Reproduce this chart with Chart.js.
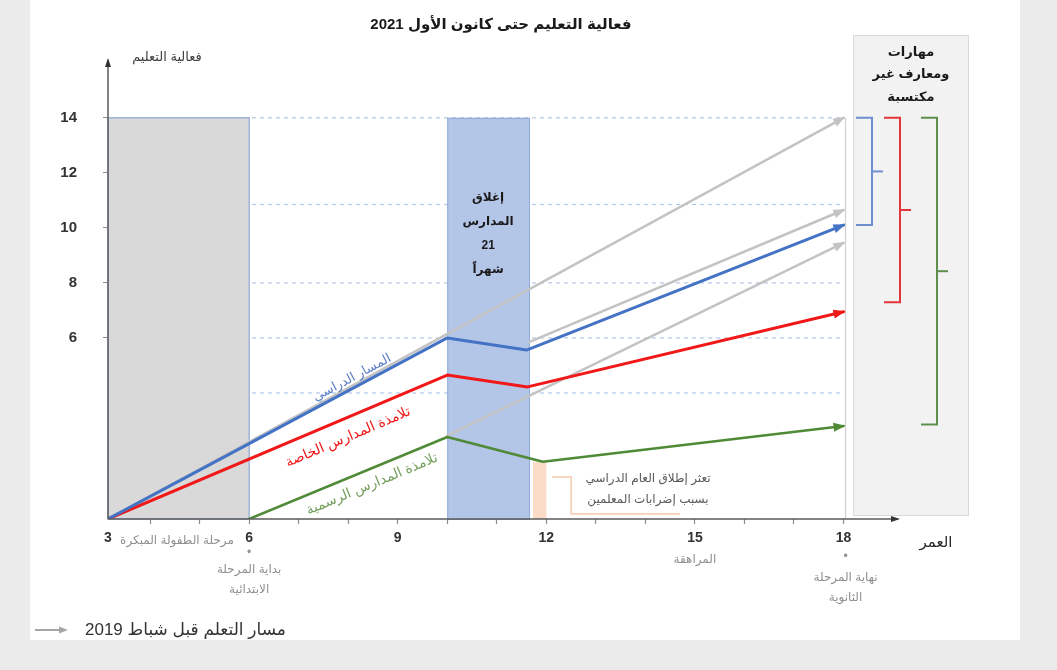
<!DOCTYPE html>
<html><head><meta charset="utf-8">
<script src="https://cdn.jsdelivr.net/npm/chart.js@4/dist/chart.umd.min.js"></script>
<style>html,body{margin:0;padding:0;background:#ebebeb;overflow:hidden}</style>
</head><body>
<canvas id="c" width="1057" height="670"></canvas>
<script>
// ---- data ----
const xTickLabels = [3, 6, 9, 12, 15, 18];
const yTickLabels = [6, 8, 10, 12, 14];
const guideLevels = [14, 10.85, 8, 6, 4];

const teacherAges = [3.15, 10, 11.6, 18];
const teacherVals = [-0.58, 6.0, 5.56, 10.1];
const privateAges = [3.15, 10, 11.62, 18];
const privateVals = [-0.58, 4.65, 4.22, 6.95];
const publicAges  = [6, 10, 11.93, 18];
const publicVals  = [-0.58, 2.4, 1.5, 2.8];

const preA_Ages = [3.15, 18];  const preA_Vals = [-0.58, 14];
const preB_Ages = [11.65, 18]; const preB_Vals = [5.85, 10.65];
const preC_Ages = [10, 18];    const preC_Vals = [2.45, 9.45];

const earlyChildhoodSpan = [3.15, 6];
const closureSpan = [10, 11.65];
const strikeSpan = [11.65, 12];
const strikeTop = 1.5;
const gapTop = 14;
const gapBottoms = [10.1, 7.3, 2.85];

const FONT = '"Liberation Sans", Arial, "DejaVu Sans", sans-serif';
const BLUE = '#4472c4', RED = '#f01818', GREEN = '#4f8a37', GRAY = '#c3c3c3';

function pts(xs, ys){ return xs.map((x,i)=>({x:x, y:ys[i]})); }

function arrowHead(ctx, x1, y1, x2, y2, color, len, w){
  const a = Math.atan2(y2-y1, x2-x1);
  ctx.save(); ctx.translate(x2, y2); ctx.rotate(a);
  ctx.beginPath(); ctx.moveTo(2,0); ctx.lineTo(-len,-w); ctx.lineTo(-len,w); ctx.closePath();
  ctx.fillStyle = color; ctx.fill(); ctx.restore();
}

const decor = {
  id: 'decor',
  beforeDraw(chart){
    const ctx = chart.ctx;
    ctx.save();
    ctx.fillStyle = '#ebebeb'; ctx.fillRect(0,0,chart.width,chart.height);
    ctx.fillStyle = '#ffffff'; ctx.fillRect(30,0,990,640);
    ctx.fillStyle = '#f2f2f2'; ctx.fillRect(853,35,115,480);
    ctx.strokeStyle = '#d9d9d9'; ctx.lineWidth = 1; ctx.strokeRect(853.5,35.5,115,480);
    ctx.restore();
  },
  beforeDatasetsDraw(chart){
    const ctx = chart.ctx, xs = chart.scales.x, ys = chart.scales.y;
    const X = v=>xs.getPixelForValue(v), Y = v=>ys.getPixelForValue(v);
    const bottom = chart.chartArea.bottom;
    ctx.save();
    ctx.setLineDash([4,4]); ctx.strokeStyle = '#b4c7e7'; ctx.lineWidth = 1.2;
    guideLevels.forEach(v=>{ ctx.beginPath(); ctx.moveTo(X(earlyChildhoodSpan[0]), Y(v)); ctx.lineTo(X(18), Y(v)); ctx.stroke(); });
    ctx.setLineDash([]);
    ctx.strokeStyle = '#d0d0d0'; ctx.lineWidth = 1.2;
    ctx.beginPath(); ctx.moveTo(X(18)+2, Y(gapTop)); ctx.lineTo(X(18)+2, bottom); ctx.stroke();
    ctx.fillStyle = '#d9d9d9'; ctx.strokeStyle = '#9fb3d9'; ctx.lineWidth = 1.5;
    let x0 = X(earlyChildhoodSpan[0]), x1 = X(earlyChildhoodSpan[1]);
    ctx.fillRect(x0, Y(gapTop), x1-x0, bottom-Y(gapTop));
    ctx.strokeRect(x0, Y(gapTop), x1-x0, bottom-Y(gapTop));
    x0 = X(closureSpan[0]); x1 = X(closureSpan[1]);
    ctx.fillStyle = '#b4c6e7'; ctx.strokeStyle = '#8faadc'; ctx.lineWidth = 1;
    ctx.fillRect(x0, Y(gapTop), x1-x0, bottom-Y(gapTop));
    ctx.strokeRect(x0+0.5, Y(gapTop)+0.5, x1-x0, bottom-Y(gapTop));
    x0 = X(strikeSpan[0]); x1 = X(strikeSpan[1]);
    ctx.fillStyle = '#fadcc8';
    ctx.fillRect(x0+4, Y(strikeTop), x1-x0-4, bottom-Y(strikeTop));
    ctx.strokeStyle = '#f6c9ab'; ctx.lineWidth = 1.5;
    ctx.beginPath();
    ctx.moveTo(X(12.12), Y(0.95)); ctx.lineTo(X(12.5), Y(0.95)); ctx.lineTo(X(12.5), Y(-0.4)); ctx.lineTo(X(14.7), Y(-0.4));
    ctx.stroke();
    ctx.restore();
  },
  afterDatasetsDraw(chart){
    const ctx = chart.ctx, ys = chart.scales.y;
    const Y = v=>ys.getPixelForValue(v);
    const ca = chart.chartArea;
    ctx.save();
    chart.data.datasets.forEach((ds,i)=>{
      const m = chart.getDatasetMeta(i).data; const n = m.length;
      const a = m[n-2], b = m[n-1];
      arrowHead(ctx, a.x, a.y, b.x, b.y, ds.borderColor, 10, 4.5);
    });
    ctx.strokeStyle = '#5a5a5a'; ctx.lineWidth = 1.5;
    ctx.beginPath(); ctx.moveTo(ca.left, ca.bottom); ctx.lineTo(ca.right, ca.bottom); ctx.stroke();
    ctx.beginPath(); ctx.moveTo(ca.left, ca.bottom); ctx.lineTo(ca.left, ca.top); ctx.stroke();
    arrowHead(ctx, ca.left, ca.bottom, ca.right, ca.bottom, '#333', 7, 3);
    arrowHead(ctx, ca.left, ca.bottom, ca.left, ca.top, '#333', 7, 3);
    const bx = [872, 900, 937], bc = ['#6f8fd0', '#e2363b', '#5e8f4c'];
    gapBottoms.forEach((v,i)=>{
      const t = Y(gapTop), b = Y(v), x = bx[i];
      ctx.strokeStyle = bc[i]; ctx.lineWidth = 2;
      ctx.beginPath(); ctx.moveTo(x-16, t); ctx.lineTo(x, t); ctx.lineTo(x, b); ctx.lineTo(x-16, b); ctx.stroke();
      ctx.beginPath(); ctx.moveTo(x, (t+b)/2); ctx.lineTo(x+11, (t+b)/2); ctx.stroke();
    });
    ctx.direction = 'rtl'; ctx.textAlign = 'center'; ctx.textBaseline = 'middle';
    function lineLabel(dsIndex, px, off, text, color, size){
      const m = chart.getDatasetMeta(dsIndex).data; const a = m[0], b = m[1];
      const ang = Math.atan2(b.y-a.y, b.x-a.x);
      const y = a.y + (px - a.x) * Math.tan(ang);
      ctx.save(); ctx.translate(px, y + off); ctx.rotate(ang);
      ctx.fillStyle = color; ctx.font = size + 'px ' + FONT; ctx.fillText(text, 0, 0); ctx.restore();
    }
    lineLabel(0, 352, -11, 'المسار الدراسي', '#5b7fc6', 13);
    lineLabel(1, 348, 20, 'تلامذة المدارس الخاصة', '#f01818', 14);
    lineLabel(2, 372, 16, 'تلامذة المدارس الرسمية', '#76a05f', 14);
    ctx.restore();
  },
  afterDraw(chart){
    const ctx = chart.ctx, xs = chart.scales.x;
    const X = v=>xs.getPixelForValue(v);
    ctx.save();
    ctx.direction = 'rtl'; ctx.textAlign = 'center'; ctx.textBaseline = 'middle';
    ctx.fillStyle = '#1a1a1a'; ctx.font = 'bold 15px ' + FONT;
    ctx.fillText('فعالية التعليم حتى كانون الأول 2021', 501, 25);
    ctx.fillStyle = '#404040'; ctx.font = '13px ' + FONT;
    ctx.fillText('فعالية التعليم', 167, 57);
    ctx.fillStyle = '#262626'; ctx.font = '15px ' + FONT;
    ctx.fillText('العمر', 936, 543);
    ctx.fillStyle = '#1a1a1a'; ctx.font = 'bold 12px ' + FONT;
    const cx = (X(closureSpan[0]) + X(closureSpan[1]))/2;
    ['إغلاق', 'المدارس', '21', 'شهراً'].forEach((t,i)=>ctx.fillText(t, cx, 198 + i*24));
    ctx.font = 'bold 13px ' + FONT;
    ['مهارات', 'ومعارف غير', 'مكتسبة'].forEach((t,i)=>ctx.fillText(t, 911, 52 + i*22.5));
    ctx.fillStyle = '#595959'; ctx.font = '12px ' + FONT;
    ctx.fillText('تعثر إطلاق العام الدراسي', 648, 479);
    ctx.fillText('بسبب إضرابات المعلمين', 648, 500);
    ctx.fillStyle = '#8f8f8f'; ctx.font = '12px ' + FONT;
    ctx.fillText('مرحلة الطفولة المبكرة', 177, 541);
    ctx.fillText('•', X(6), 553);
    ctx.fillText('بداية المرحلة', X(6), 570);
    ctx.fillText('الابتدائية', X(6), 590);
    ctx.fillText('المراهقة', X(15), 560);
    ctx.fillText('•', X(18)+2, 557);
    ctx.fillText('نهاية المرحلة', X(18)+2, 578);
    ctx.fillText('الثانوية', X(18)+2, 598);
    ctx.strokeStyle = '#a6a6a6'; ctx.lineWidth = 2;
    ctx.beginPath(); ctx.moveTo(35, 630); ctx.lineTo(62, 630); ctx.stroke();
    arrowHead(ctx, 35, 630, 66, 630, '#a6a6a6', 7, 3.5);
    ctx.fillStyle = '#333333'; ctx.font = '17px ' + FONT; ctx.textAlign = 'left';
    ctx.fillText('مسار التعلم قبل شباط 2019', 85, 630);
    ctx.restore();
  }
};

const intTicks = [];
for (let v = 4; v <= 18; v++) intTicks.push(v);

new Chart(document.getElementById('c'), {
  type: 'line',
  data: {
    datasets: [
      {data: pts(teacherAges, teacherVals), borderColor: BLUE, borderWidth: 3},
      {data: pts(privateAges, privateVals), borderColor: RED, borderWidth: 3},
      {data: pts(publicAges, publicVals), borderColor: GREEN, borderWidth: 2.5},
      {data: pts(preA_Ages, preA_Vals), borderColor: GRAY, borderWidth: 2.5},
      {data: pts(preB_Ages, preB_Vals), borderColor: GRAY, borderWidth: 2.5},
      {data: pts(preC_Ages, preC_Vals), borderColor: GRAY, borderWidth: 2.5}
    ]
  },
  options: {
    responsive: false, animation: false, devicePixelRatio: 1,
    layout: {padding: {left: 48, right: 159, top: 60, bottom: 0}},
    elements: {point: {radius: 0}, line: {tension: 0, borderCapStyle: 'round', borderJoinStyle: 'round'}},
    plugins: {legend: {display: false}, tooltip: {enabled: false}},
    scales: {
      x: {
        type: 'linear', min: 3.15, max: 19.1,
        afterBuildTicks(s){ s.ticks = [{value: 3.15}].concat(intTicks.map(v=>({value: v}))); },
        afterFit(s){ s.height = 151; },
        border: {display: false},
        grid: {drawOnChartArea: false, drawTicks: true, tickLength: 5,
               tickColor: c => (c.tick && c.tick.value === 3.15) ? 'rgba(0,0,0,0)' : '#8c8c8c', tickWidth: 1.2},
        ticks: {autoSkip: false, maxRotation: 0, padding: 6, color: '#333333',
                font: {family: FONT, size: 14, weight: 'bold'},
                callback: v => v === 3.15 ? String(xTickLabels[0]) : (xTickLabels.includes(v) ? String(v) : '')}
      },
      y: {
        type: 'linear', min: -0.58, max: 16.1,
        afterBuildTicks(s){ s.ticks = yTickLabels.map(v=>({value: v})); },
        afterFit(s){ s.width = 60; },
        border: {display: false},
        grid: {drawOnChartArea: false, drawTicks: true, tickLength: 5, tickColor: '#8c8c8c'},
        ticks: {padding: 26, color: '#333333', font: {family: FONT, size: 15, weight: 'bold'}}
      }
    }
  },
  plugins: [decor]
});
</script>
</body></html>
